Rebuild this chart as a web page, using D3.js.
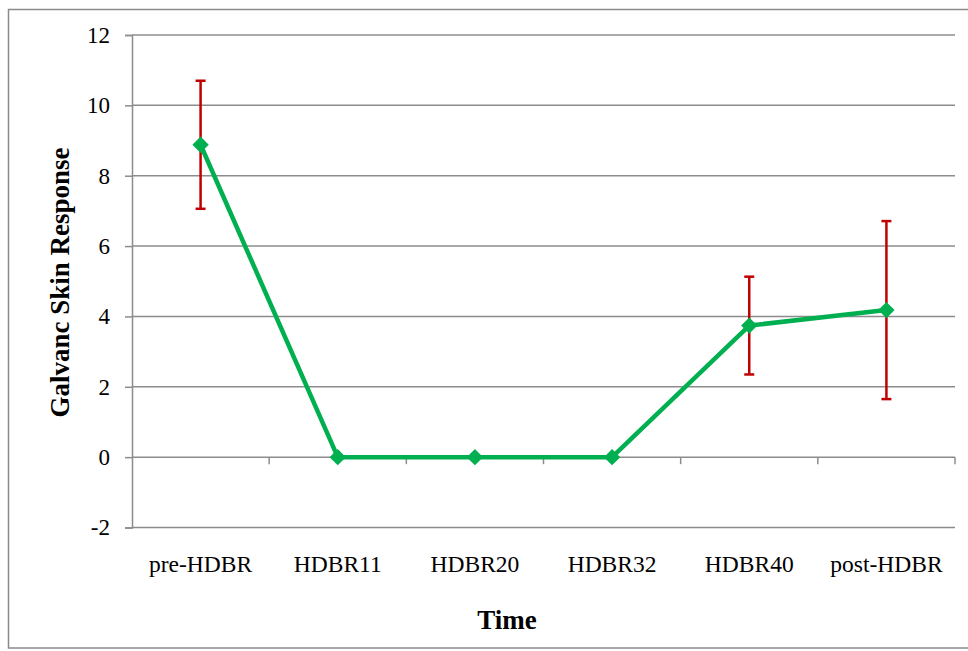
<!DOCTYPE html>
<html>
<head>
<meta charset="utf-8">
<script src="https://cdn.jsdelivr.net/npm/d3@7"></script>
<style>
  html, body { margin: 0; padding: 0; background: #fff; }
  svg { display: block; }
  svg text { font-family: "Liberation Serif", "Times New Roman", serif; }
</style>
</head>
<body>
<svg id="chart" width="968" height="651"></svg>
<script>
// Galvanic skin response across the head-down bed rest timeline
const categories = ["pre-HDBR", "HDBR11", "HDBR20", "HDBR32", "HDBR40", "post-HDBR"];
const means = [8.88, 0, 0, 0, 3.74, 4.18];
const errors = [1.82, 0, 0, 0, 1.39, 2.53];
const yTicks = [-2, 0, 2, 4, 6, 8, 10, 12];

const svg = d3.select("#chart");
const W = 968, H = 651;
const serif = "Liberation Serif, Times New Roman, serif";

// outer frame
svg.append("rect")
  .attr("x", 8.5).attr("y", 9.5)
  .attr("width", W + 10).attr("height", 638.5)
  .attr("fill", "#fff").attr("stroke", "#8a8a8a").attr("stroke-width", 1.5);

const plot = { left: 132, right: 955, top: 35, bottom: 527.5 };

const x = d3.scaleBand().domain(categories).range([plot.left, plot.right]).padding(0);
const y = d3.scaleLinear().domain([-2, 12]).range([plot.bottom, plot.top]);

const gridColor = "#8c8c8c";

// horizontal gridlines
svg.append("g").selectAll("line").data(yTicks.filter(t => t !== 0)).join("line")
  .attr("x1", plot.left).attr("x2", plot.right)
  .attr("y1", d => y(d)).attr("y2", d => y(d))
  .attr("stroke", gridColor).attr("stroke-width", 1.5);

// y axis (plain hyphen for negatives)
const yAxis = d3.axisLeft(y).tickValues(yTicks).tickSize(7).tickPadding(15)
  .tickFormat(d => String(d));
const gy = svg.append("g").attr("transform", `translate(${plot.left},0)`).call(yAxis);
gy.attr("font-family", serif).attr("font-size", 23);
gy.select(".domain").attr("stroke", gridColor).attr("stroke-width", 1.5);
gy.selectAll(".tick line").attr("stroke", gridColor).attr("stroke-width", 1.5);
gy.selectAll(".tick text")
  .attr("font-family", serif).attr("font-size", 23).attr("fill", "#000");

// category axis crossing at zero, with ticks on category boundaries
const boundaries = d3.range(categories.length + 1).map(i => plot.left + i * x.bandwidth());
const gx = svg.append("g");
gx.append("line")
  .attr("x1", plot.left).attr("x2", plot.right)
  .attr("y1", y(0)).attr("y2", y(0))
  .attr("stroke", gridColor).attr("stroke-width", 1.5);
gx.selectAll("line.tk").data(boundaries.slice(1)).join("line").attr("class", "tk")
  .attr("x1", d => d).attr("x2", d => d)
  .attr("y1", y(0)).attr("y2", y(0) + 7)
  .attr("stroke", gridColor).attr("stroke-width", 1.5);

// category labels below the plot
svg.append("g").selectAll("text").data(categories).join("text")
  .attr("x", d => x(d) + x.bandwidth() / 2)
  .attr("y", 572)
  .attr("text-anchor", "middle")
  .attr("font-family", serif)
  .attr("font-size", 23.5).attr("fill", "#000")
  .text(d => d);

// axis titles
svg.append("text")
  .attr("x", 507).attr("y", 629)
  .attr("text-anchor", "middle")
  .attr("font-family", serif)
  .attr("font-size", 27).attr("font-weight", "bold")
  .text("Time");

svg.append("text")
  .attr("transform", `translate(69,${(143 + 422) / 2}) rotate(-90)`)
  .attr("text-anchor", "middle")
  .attr("font-family", serif)
  .attr("font-size", 27).attr("font-weight", "bold")
  .text("Galvanc Skin Response");

const pts = categories.map((c, i) => ({ c, v: means[i], e: errors[i] }));
const cx = d => x(d.c) + x.bandwidth() / 2;

// error bars
const eb = svg.append("g").selectAll("g").data(pts.filter(d => d.e > 0)).join("g")
  .attr("stroke", "#c00000").attr("stroke-width", 2.5);
eb.append("line")
  .attr("x1", cx).attr("x2", cx)
  .attr("y1", d => y(d.v + d.e)).attr("y2", d => y(d.v - d.e));
eb.append("line")
  .attr("x1", d => cx(d) - 5).attr("x2", d => cx(d) + 5)
  .attr("y1", d => y(d.v + d.e)).attr("y2", d => y(d.v + d.e));
eb.append("line")
  .attr("x1", d => cx(d) - 5).attr("x2", d => cx(d) + 5)
  .attr("y1", d => y(d.v - d.e)).attr("y2", d => y(d.v - d.e));

// mean line
const green = "#00b050";
svg.append("path")
  .datum(pts)
  .attr("fill", "none").attr("stroke", green).attr("stroke-width", 4.5)
  .attr("stroke-linejoin", "round")
  .attr("d", d3.line().x(cx).y(d => y(d.v)));

// diamond markers
svg.append("g").selectAll("path").data(pts).join("path")
  .attr("transform", d => `translate(${cx(d)},${y(d.v)})`)
  .attr("d", d3.symbol().type(d3.symbolDiamond2).size(170))
  .attr("fill", green);
</script>
</body>
</html>
